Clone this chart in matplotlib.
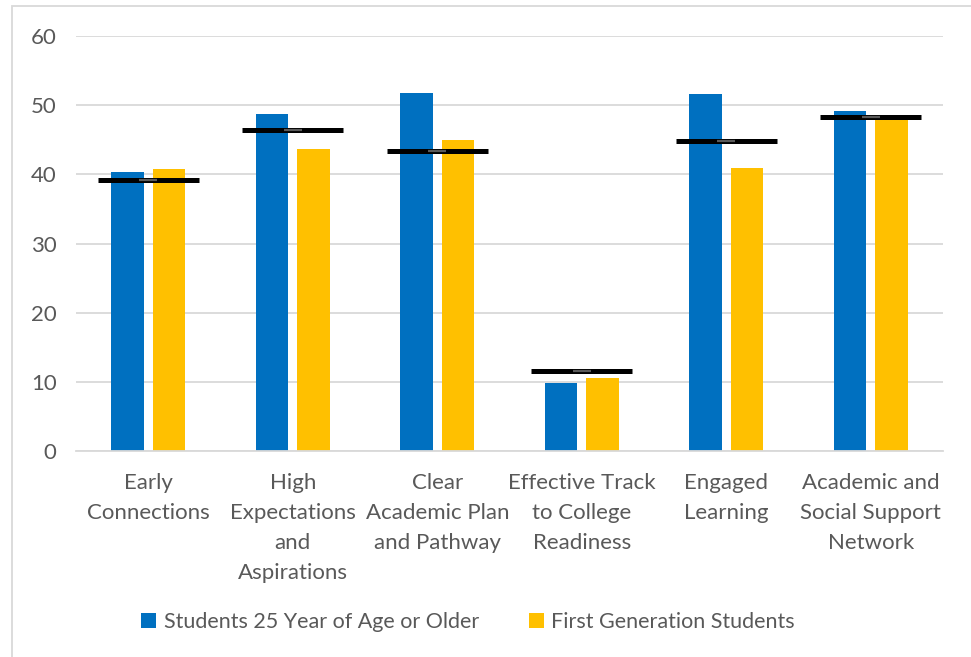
import matplotlib
matplotlib.use("Agg")
import matplotlib.pyplot as plt
from matplotlib.patches import Rectangle
import numpy as np

categories = [
    "Early\nConnections",
    "High\nExpectations\nand\nAspirations",
    "Clear\nAcademic Plan\nand Pathway",
    "Effective Track\nto College\nReadiness",
    "Engaged\nLearning",
    "Academic and\nSocial Support\nNetwork",
]
older_students = [40.3, 48.7, 51.8, 9.8, 51.6, 49.2]
first_gen = [40.8, 43.7, 45.0, 10.5, 40.9, 48.2]
overall = [39.2, 46.4, 43.4, 11.5, 44.8, 48.3]
y_ticks = [0, 10, 20, 30, 40, 50, 60]

BLUE = "#0070C0"
GOLD = "#FFC000"
GRID = "#D9D9D9"
TEXT = "#595959"

plt.rcParams["font.family"] = ["Lato", "DejaVu Sans"]

fig = plt.figure(figsize=(9.71, 6.57), dpi=100)
ax = fig.add_axes([76 / 971, 1 - 451 / 657, (943 - 76) / 971, (451 - 36) / 657])

x = np.arange(len(categories))
width = 0.225
offset = 0.1425
b1 = ax.bar(x - offset, older_students, width, color=BLUE, zorder=2,
            label="Students 25 Year of Age or Older")
b2 = ax.bar(x + offset, first_gen, width, color=GOLD, zorder=2,
            label="First Generation Students")

# overall benchmark markers
ax.hlines(overall, x - 0.35, x + 0.35, color="black", lw=3.6, zorder=3)
ax.plot(x, overall, linestyle="none", marker="_", markersize=13,
        markeredgewidth=1.6, color="#5A5A5A", zorder=4)

ax.set_xlim(-0.5, len(categories) - 0.5)
ax.set_ylim(0, 60)
ax.set_yticks(y_ticks)
ax.yaxis.grid(True, color=GRID, lw=1.3, zorder=0)
ax.set_axisbelow(True)
for s in ["top", "right", "left"]:
    ax.spines[s].set_visible(False)
ax.spines["bottom"].set_color(GRID)
ax.spines["bottom"].set_linewidth(1.3)
ax.tick_params(axis="both", length=0, colors=TEXT, labelsize=16)
ax.tick_params(axis="y", pad=14)
ax.tick_params(axis="x", pad=16)
ax.set_xticks(x)
ax.set_xticklabels(categories, linespacing=1.62)

leg = fig.legend(handles=[b1, b2], loc="center", ncol=2,
                 bbox_to_anchor=(468 / 971, 1 - 622 / 657), frameon=False,
                 fontsize=15.5, labelcolor=TEXT, handlelength=0.7,
                 handleheight=0.7, handletextpad=0.35, columnspacing=2.3)

fig.patches.append(Rectangle((12 / 971, -0.1), 1.2, 1 - 5.5 / 657 + 0.1,
                             transform=fig.transFigure, fill=False,
                             edgecolor=GRID, lw=1.3))

fig.savefig("out.png", dpi=100)
